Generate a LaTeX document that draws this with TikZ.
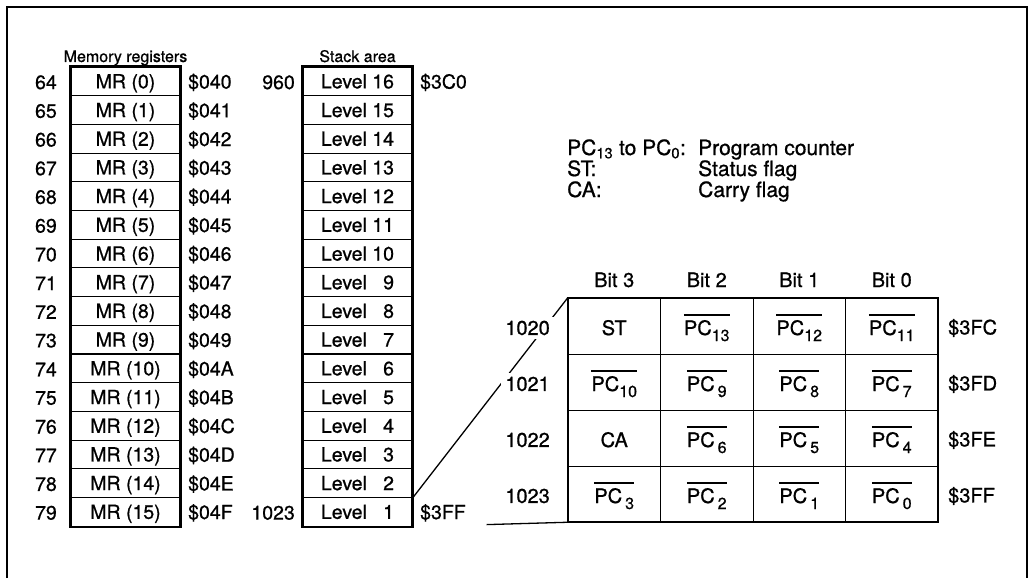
\documentclass[tikz,border=0pt]{standalone}
\usepackage{fontspec}
\setmainfont{TeX Gyre Heros}[FakeBold=0.8]
\newcommand\pcbar[2][0pt]{\setbox0\hbox{PC\kern#1\raisebox{-6pt}{\fontsize{16}{16}\selectfont #2}}\rlap{\raisebox{19pt}{\rule{\wd0}{1.8pt}}}\box0}
\begin{document}
\begin{tikzpicture}[x=1pt,y=-1pt,
  cell/.style={draw,line width=1.1pt,minimum width=109pt,minimum height=28.7pt,inner sep=0pt,text height=15pt,text depth=1pt,font=\fontsize{19.5}{22}\selectfont},
  lab/.style={inner sep=0pt,font=\fontsize{19.5}{22}\selectfont},
  ttl/.style={inner sep=0pt,font=\fontsize{16}{18}\selectfont},
  tcell/.style={draw,line width=0.5pt,minimum width=92.5pt,minimum height=56pt,inner sep=0pt,text height=20pt,text depth=2pt,font=\fontsize{20}{24}\selectfont},
  tlab/.style={inner sep=0pt,font=\fontsize{20}{24}\selectfont},
  leg/.style={inner sep=0pt,font=\fontsize{21}{24}\selectfont},
  outline/.style={line width=2.2pt},
  link/.style={line width=1.3pt}
]
\useasboundingbox (0,0) rectangle (1030,578);
\draw[line width=1.8pt] (7,578) -- (7,7) -- (1027,7) -- (1027,578);

% memory registers
\node[ttl,anchor=base] (mrt) at (125.5,62) {Memory registers};
\foreach \i/\h in {0/0,1/1,2/2,3/3,4/4,5/5,6/6,7/7,8/8,9/9,10/A,11/B,12/C,13/D,14/E,15/F} {
  \pgfmathsetmacro\yy{67+28.7*(\i+0.5)}
  \pgfmathtruncatemacro\nn{64+\i}
  \node[cell] (mr\i) at (125.5,\yy) {MR (\i)};
  \node[lab,anchor=east] (mn\i) at (57,\yy+1) {\nn};
  \node[lab,anchor=west] (ma\i) at (188,\yy+1) {\$04\h};
}
\draw[outline] (mr0.north west) rectangle (mr15.south east);

% stack area
\node[ttl,anchor=base] (stt) at (357.5,62) {Stack area};
\foreach \r in {0,...,15} {
  \pgfmathsetmacro\yy{67+28.7*(\r+0.5)}
  \pgfmathtruncatemacro\lv{16-\r}
  \node[cell] (s\lv) at (357.5,\yy) {\ifnum\lv<10 Level \phantom{1}\lv\else Level \lv\fi};
}
\draw[outline] (s16.north west) rectangle (s1.south east);
\node[lab,anchor=east] (sn16) at (295,82.35) {960};
\node[lab,anchor=west] (sa16) at (420,82.35) {\$3C0};
\node[lab,anchor=east] (sn1) at (295,512.85) {1023};
\node[lab,anchor=west] (sa1) at (420,512.85) {\$3FF};

% bit table
\node[tcell] (t11) at (614.25,326) {ST};
\node[tcell] (t12) at (706.75,326) {\pcbar{13}};
\node[tcell] (t13) at (799.25,326) {\pcbar{12}};
\node[tcell] (t14) at (891.75,326) {\pcbar{11}};
\node[tcell] (t21) at (614.25,382) {\pcbar{10}};
\node[tcell] (t22) at (706.75,382) {\pcbar[3pt]{9}};
\node[tcell] (t23) at (799.25,382) {\pcbar[3pt]{8}};
\node[tcell] (t24) at (891.75,382) {\pcbar[3pt]{7}};
\node[tcell] (t31) at (614.25,438) {CA};
\node[tcell] (t32) at (706.75,438) {\pcbar[3pt]{6}};
\node[tcell] (t33) at (799.25,438) {\pcbar[3pt]{5}};
\node[tcell] (t34) at (891.75,438) {\pcbar[3pt]{4}};
\node[tcell] (t41) at (614.25,494) {\pcbar[3pt]{3}};
\node[tcell] (t42) at (706.75,494) {\pcbar[3pt]{2}};
\node[tcell] (t43) at (799.25,494) {\pcbar[3pt]{1}};
\node[tcell] (t44) at (891.75,494) {\pcbar[3pt]{0}};
\foreach \r in {1,2,3} \draw[line width=1.1pt] (t\r1.south west) -- (t\r4.south east);
\draw[outline] (t11.north west) rectangle (t44.south east);

\node[tlab,anchor=base] (b3) at (614.25,287) {Bit 3};
\node[tlab,anchor=base] (b2) at (706.75,287) {Bit 2};
\node[tlab,anchor=base] (b1) at (799.25,287) {Bit 1};
\node[tlab,anchor=base] (b0) at (891.75,287) {Bit 0};

% connectors
\draw[link] (s2.south east) -- (t11.north west);
\draw[link,shorten <=74pt] (s1.south east) -- (t41.south west);

% row addresses
\node[tlab,anchor=east,fill=white,inner sep=4pt] (r0) at (554,328) {1020};
\node[tlab,anchor=east,fill=white,inner sep=4pt] (r1) at (554,384) {1021};
\node[tlab,anchor=east,fill=white,inner sep=4pt] (r2) at (554,440) {1022};
\node[tlab,anchor=east,fill=white,inner sep=4pt] (r3) at (554,496) {1023};
\node[tlab,anchor=west] (h0) at (948,328) {\$3FC};
\node[tlab,anchor=west] (h1) at (948,384) {\$3FD};
\node[tlab,anchor=west] (h2) at (948,440) {\$3FE};
\node[tlab,anchor=west] (h3) at (948,496) {\$3FF};

% legend
\node[leg,anchor=base west] (lg1) at (567,155) {PC\textsubscript{13} to PC\textsubscript{0}:};
\node[leg,anchor=base west] (lg1b) at (698,155) {Program counter};
\node[leg,anchor=base west] (lg2) at (567,176) {ST:};
\node[leg,anchor=base west] (lg2b) at (698,176) {Status flag};
\node[leg,anchor=base west] (lg3) at (567,197) {CA:};
\node[leg,anchor=base west] (lg3b) at (698,197) {Carry flag};
\end{tikzpicture}
\end{document}
